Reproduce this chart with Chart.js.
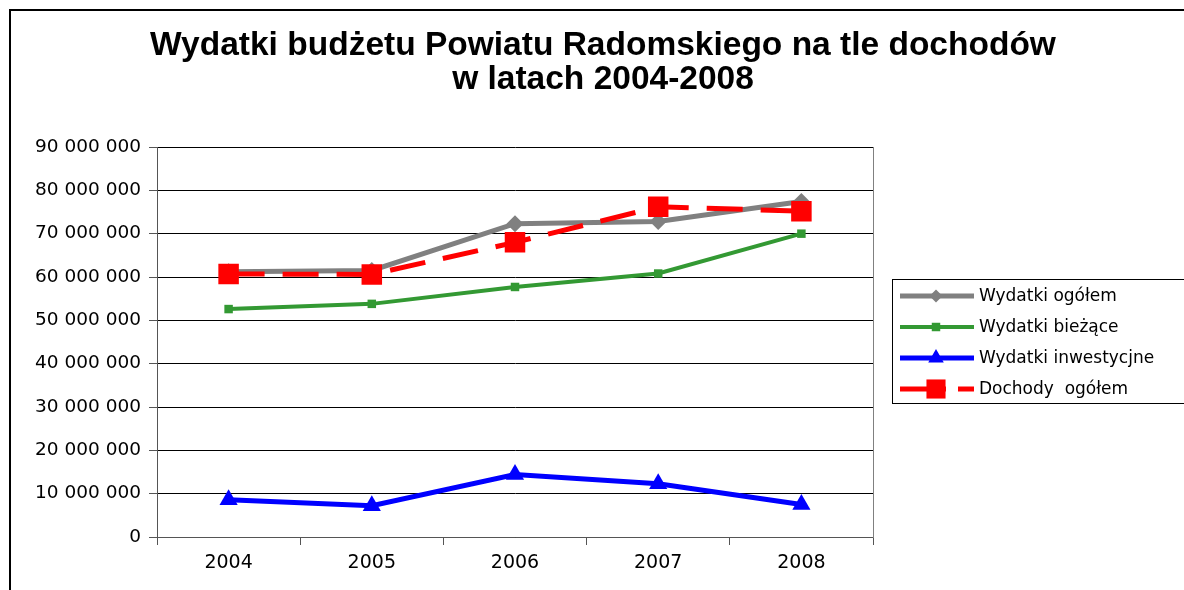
<!DOCTYPE html>
<html>
<head>
<meta charset="utf-8">
<script src="https://cdn.jsdelivr.net/npm/chart.js@4/dist/chart.umd.min.js"></script>
<style>
	html, body { margin: 0; padding: 0; background: #fff; }
	#box { width: 1184px; height: 590px; }
</style>
</head>
<body>
<div id="box"><canvas id="wykres"></canvas></div>
<script>
// dane z wykresu
const lata = ["2004", "2005", "2006", "2007", "2008"];
const wydatkiOgolem = [61200000, 61500000, 72300000, 72800000, 77400000];
const wydatkiBiezace = [52600000, 53800000, 57700000, 60800000, 70000000];
const wydatkiInwest = [8600000, 7200000, 14400000, 12300000, 7500000];
const dochodyOgolem = [60700000, 60600000, 68000000, 76200000, 75200000];
const nazwy = ["Wydatki ogółem", "Wydatki bieżące", "Wydatki inwestycjne", "Dochody  ogółem"];
const tytul = ["Wydatki budżetu Powiatu Radomskiego na tle dochodów", "w latach 2004-2008"];
const yMax = 90000000;
const yKrok = 10000000;

// "90 000 000"
function spacje(v) {
	return String(v).replace(/\B(?=(\d{3})+(?!\d))/g, " ");
}

const serie = [
	{ label: nazwy[0], data: wydatkiOgolem, kolor: "#808080", styl: "rectRot", r: 8.5, lr: 6.5, w: 5, dash: [], order: 1 },
	{ label: nazwy[1], data: wydatkiBiezace, kolor: "#339933", styl: "rect", r: 6, lr: 6, w: 4, dash: [], order: 2 },
	{ label: nazwy[2], data: wydatkiInwest, kolor: "#0000ff", styl: "triangle", r: 10.5, lr: 9, w: 5, dash: [], order: 3 },
	{ label: nazwy[3], data: dochodyOgolem, kolor: "#ff0000", styl: "rect", r: 14.5, lr: 13.5, w: 5, dash: [36, 18], order: 0 }
];

// ramka dookoła całego wykresu
const ramka = {
	id: "ramka",
	beforeDraw(chart) {
		const ctx = chart.ctx;
		ctx.save();
		ctx.fillStyle = "#fff";
		ctx.fillRect(0, 0, chart.width, chart.height);
		ctx.strokeStyle = "#000";
		ctx.lineWidth = 2;
		ctx.beginPath();
		ctx.moveTo(10, chart.height + 2);
		ctx.lineTo(10, 10);
		ctx.lineTo(chart.width + 2, 10);
		ctx.stroke();
		ctx.restore();
	}
};

// legenda w ramce po prawej
const legenda = {
	id: "legenda",
	afterDraw(chart) {
		const ctx = chart.ctx;
		const a = chart.chartArea;
		const x0 = a.right + 19;
		const y0 = a.top + 132;
		ctx.save();
		ctx.strokeStyle = "#000";
		ctx.lineWidth = 1;
		ctx.strokeRect(x0 + 0.5, y0 + 0.5, chart.width, 124);
		chart.data.datasets.forEach((ds, i) => {
			const y = y0 + 17 + i * 31;
			ctx.strokeStyle = ds.borderColor;
			ctx.lineWidth = ds.borderWidth;
			ctx.setLineDash(ds.borderDash.length ? [46, 12] : []);
			ctx.beginPath();
			ctx.moveTo(x0 + 8, y);
			ctx.lineTo(x0 + 82, y);
			ctx.stroke();
			ctx.setLineDash([]);
			ctx.fillStyle = ds.borderColor;
			Chart.helpers.drawPoint(ctx, {
				pointStyle: ds.pointStyle,
				radius: ds.legendRadius,
				borderWidth: 0,
				rotation: 0
			}, x0 + 44, y);
			ctx.fillStyle = "#000";
			ctx.font = "17px 'DejaVu Sans'";
			ctx.textBaseline = "middle";
			ctx.textAlign = "left";
			ctx.fillText(ds.label, x0 + 87, y + 1);
		});
		ctx.restore();
	}
};

const ctx1 = document.getElementById("wykres");
const wykres = new Chart(ctx1, {
	type: "line",
	data: {
		labels: lata,
		datasets: serie.map((s) => ({
			label: s.label,
			data: s.data,
			borderColor: s.kolor,
			backgroundColor: s.kolor,
			borderWidth: s.w,
			borderDash: s.dash,
			pointStyle: s.styl,
			pointRadius: s.r,
			pointBackgroundColor: s.kolor,
			pointBorderColor: s.kolor,
			pointBorderWidth: 0,
			legendRadius: s.lr,
			tension: 0,
			fill: false,
			order: s.order
		}))
	},
	options: {
		responsive: true,
		maintainAspectRatio: false,
		animation: false,
		layout: { padding: { left: 22, right: 0, top: 0, bottom: 0 } },
		scales: {
			x: {
				offset: true,
				grid: { offset: true, drawOnChartArea: false, tickLength: 8, color: "#555" },
				border: { color: "#555", width: 1 },
				ticks: { color: "#000", padding: 7, font: { family: "'DejaVu Sans'", size: 19 } },
				afterFit: (s) => { s.height = 53; }
			},
			y: {
				min: 0,
				max: yMax,
				ticks: {
					stepSize: yKrok,
					color: "#000",
					padding: 8,
					font: { family: "'DejaVu Sans'", size: 18.5 },
					callback: (v) => spacje(v)
				},
				grid: { color: "#000", tickColor: "#555", tickLength: 8 },
				border: { color: "#555", width: 1 },
				afterFit: (s) => { s.width = 135; }
			},
			// miejsce na legendę + prawa krawędź pola wykresu
			prawa: {
				position: "right",
				grid: { display: false },
				border: { display: true, color: "#808080", width: 1 },
				ticks: { display: false },
				afterFit: (s) => { s.width = 311; }
			}
		},
		plugins: {
			legend: { display: false },
			tooltip: { enabled: false },
			title: {
				display: true,
				text: tytul,
				color: "#000",
				font: { family: "'Liberation Sans'", size: 33.5, weight: "bold", lineHeight: "34px" },
				padding: { top: 29, bottom: 50 }
			}
		}
	},
	plugins: [ramka, legenda]
});
</script>
</body>
</html>
